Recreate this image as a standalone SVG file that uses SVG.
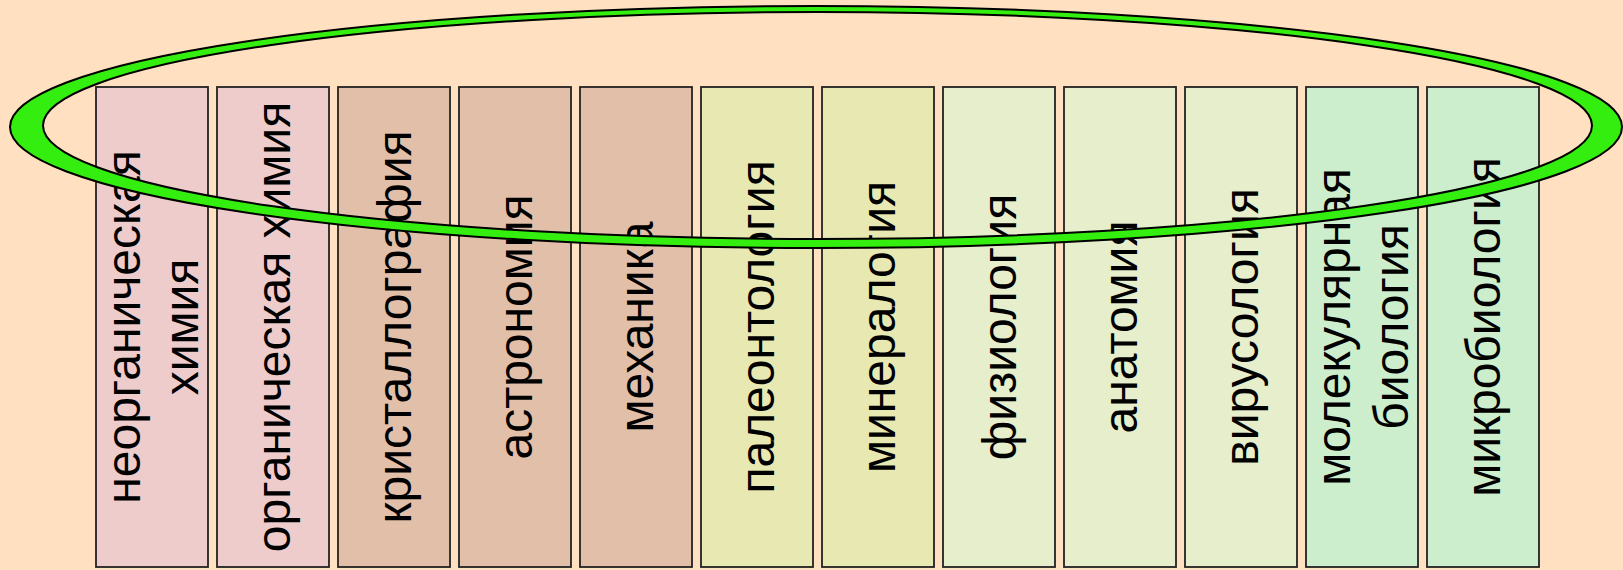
<svg xmlns="http://www.w3.org/2000/svg" width="1623" height="570" viewBox="0 0 1623 570">
<style>
.box{stroke:#222;stroke-width:1.8}
.t{font-family:"Liberation Sans",Arial,sans-serif;font-size:48px;fill:#000;text-anchor:middle}
.c1{fill:#eecccc}.c2{fill:#e2bfa9}.c3{fill:#e8e8b2}.c4{fill:#e6eecc}.c5{fill:#cdeecc}
</style>
<rect x="0" y="0" width="1623" height="570" fill="#ffe0c1"/>
<g id="n1"><rect class="box c1" x="96" y="87" width="112" height="480"/><g transform="translate(152,327) rotate(-90)"><text class="t" x="0" y="-12">неорганическая</text><text class="t" x="0" y="46">химия</text></g></g>
<g id="n2"><rect class="box c1" x="217" y="87" width="112" height="480"/><g transform="translate(273,327) rotate(-90)"><text class="t" x="0" y="17">органическая химия</text></g></g>
<g id="n3"><rect class="box c2" x="338" y="87" width="112" height="480"/><g transform="translate(394,327) rotate(-90)"><text class="t" x="0" y="17">кристаллография</text></g></g>
<g id="n4"><rect class="box c2" x="459" y="87" width="112" height="480"/><g transform="translate(515,327) rotate(-90)"><text class="t" x="0" y="17">астрономия</text></g></g>
<g id="n5"><rect class="box c2" x="580" y="87" width="112" height="480"/><g transform="translate(636,327) rotate(-90)"><text class="t" x="0" y="17">механика</text></g></g>
<g id="n6"><rect class="box c3" x="701" y="87" width="112" height="480"/><g transform="translate(757,327) rotate(-90)"><text class="t" x="0" y="17">палеонтология</text></g></g>
<g id="n7"><rect class="box c3" x="822" y="87" width="112" height="480"/><g transform="translate(878,327) rotate(-90)"><text class="t" x="0" y="17">минералогия</text></g></g>
<g id="n8"><rect class="box c4" x="943" y="87" width="112" height="480"/><g transform="translate(999,327) rotate(-90)"><text class="t" x="0" y="17">физиология</text></g></g>
<g id="n9"><rect class="box c4" x="1064" y="87" width="112" height="480"/><g transform="translate(1120,327) rotate(-90)"><text class="t" x="0" y="17">анатомия</text></g></g>
<g id="n10"><rect class="box c4" x="1185" y="87" width="112" height="480"/><g transform="translate(1241,327) rotate(-90)"><text class="t" x="0" y="17">вирусология</text></g></g>
<g id="n11"><rect class="box c5" x="1306" y="87" width="112" height="480"/><g transform="translate(1362,327) rotate(-90)"><text class="t" x="0" y="-12">молекулярная</text><text class="t" x="0" y="46">биология</text></g></g>
<g id="n12"><rect class="box c5" x="1427" y="87" width="112" height="480"/><g transform="translate(1483,327) rotate(-90)"><text class="t" x="0" y="17">микробиология</text></g></g>
<g id="ring">
<path fill="#33ee0e" fill-rule="evenodd" stroke="#000" stroke-width="2" d="M10,127 A806,121 0 1,0 1622,127 A806,121 0 1,0 10,127 Z M43,125.5 A774.5,113.5 0 1,0 1592,125.5 A774.5,113.5 0 1,0 43,125.5 Z"/>
</g>
</svg>
